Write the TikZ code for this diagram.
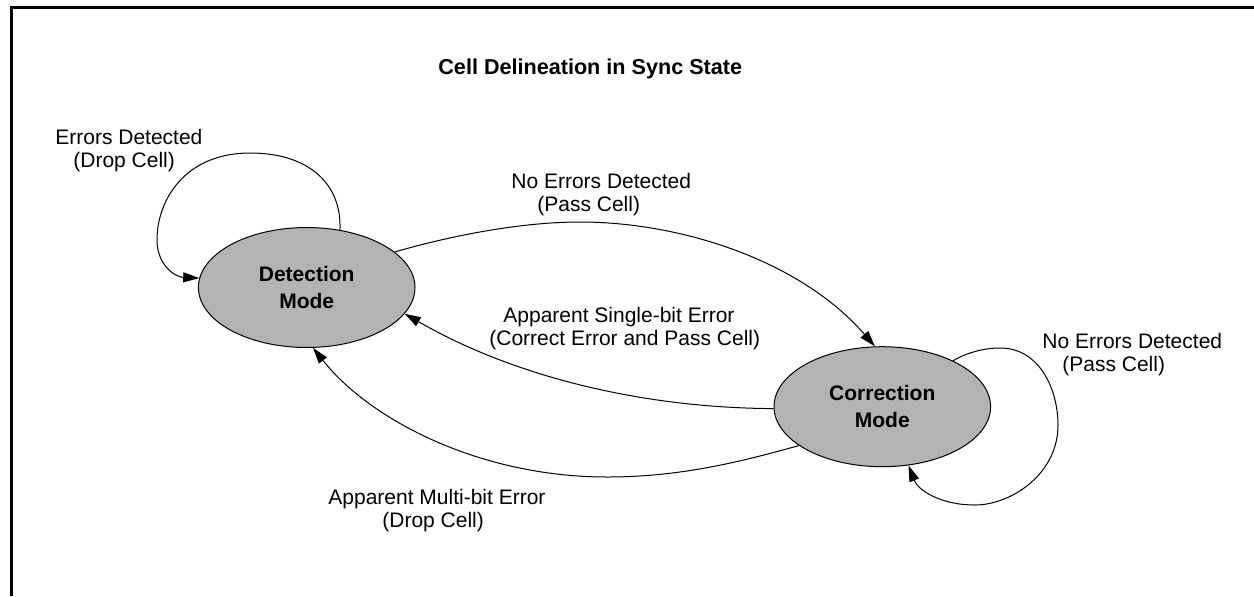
\documentclass[tikz,border=0pt]{standalone}
\usepackage{fontspec}
\setmainfont{Liberation Sans}
\usetikzlibrary{arrows.meta,shapes.geometric}
\definecolor{stategray}{RGB}{179,179,179}
\begin{document}
\begin{tikzpicture}[x=0.5pt,y=-0.5pt,
  state/.style={ellipse, draw=black, line width=0.5pt, fill=stategray,
    minimum width=108.3pt, minimum height=60pt, inner sep=0pt, align=center,
    font=\fontsize{10.5pt}{13.5pt}\selectfont\bfseries},
  lbl/.style={anchor=north west, inner sep=0pt, align=left,
    font=\fontsize{10.5pt}{11.25pt}\selectfont},
  conn/.style={line width=0.5pt, -{Triangle[length=8pt,width=5pt]}},
  frame/.style={line width=1.3pt}
]
\useasboundingbox (0,0) rectangle (1254,596);
\draw[frame] (11.5,596) -- (11.5,7.5) -- (1254,7.5);

\node[lbl, font=\fontsize{10.8pt}{11.25pt}\selectfont\bfseries] (title) at (438,58) {Cell Delineation in Sync State};

\node[state] (det) at (306.7,287.5) {Detection\\Mode};
\node[state] (cor) at (882.3,406.7) {Correction\\Mode};

% labels
\node[lbl] (l1) at (55,129) {Errors Detected\\\hspace*{9pt}(Drop Cell)};
\node[lbl] (l2) at (511,173) {No Errors Detected\\\hspace*{13pt}(Pass Cell)};
\node[lbl] (l3) at (489,307) {\hspace*{7pt}Apparent Single-bit Error\\(Correct Error and Pass Cell)};
\node[lbl] (l4) at (1042,333) {No Errors Detected\\\hspace*{10pt}(Pass Cell)};
\node[lbl] (l5) at (328,489) {Apparent Multi-bit Error\\\hspace*{27pt}(Drop Cell)};

% connectors
\draw[conn] (det.60) .. controls (342,185) and (310,153) .. (250,153)
  .. controls (185,153) and (157,200) .. (157,240)
  .. controls (157,265) and (175,277) .. (det.175);

\draw[conn] (det.22) .. controls (450,236) and (520,222) .. (580,222)
  .. controls (680,222) and (800,260) .. (cor.97);

\draw[conn] (cor.181) .. controls (650,408) and (520,380) .. (det.-15);

\draw[conn] (cor.205) .. controls (740,462) and (680,477) .. (607,477)
  .. controls (480,477) and (370,420) .. (det.-84);

\draw[conn] (cor.33) .. controls (968,352) and (985,348) .. (1000,348)
  .. controls (1040,348) and (1058,390) .. (1058,425)
  .. controls (1058,475) and (1010,505) .. (975,505)
  .. controls (940,505) and (918,490) .. (cor.-66);
\end{tikzpicture}
\end{document}
